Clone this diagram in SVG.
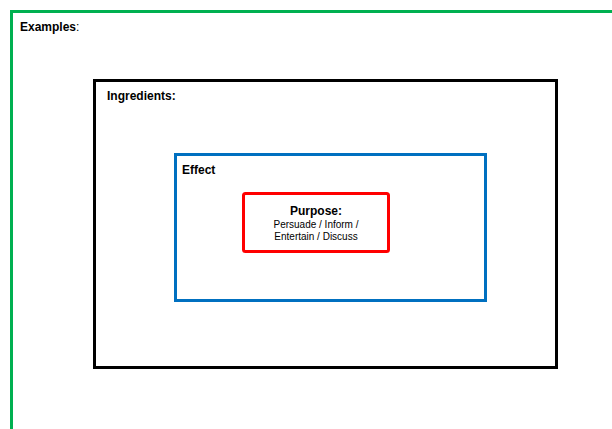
<svg xmlns="http://www.w3.org/2000/svg" width="612" height="429" viewBox="0 0 612 429">
<style>
.lbl{font-family:"Liberation Sans",Arial,sans-serif;font-weight:bold;font-size:12px;fill:#000}
.sm{font-family:"Liberation Sans",Arial,sans-serif;font-size:10px;fill:#000}
</style>
<rect width="612" height="429" fill="#fff"/>
<g id="examples">
<path d="M11.5 429 V11.5 H612" fill="none" stroke="#00b050" stroke-width="3"/>
<text class="lbl" x="20" y="31">Examples<tspan font-weight="normal">:</tspan></text>
</g>
<g id="ingredients">
<rect x="94.5" y="80.5" width="462" height="287" fill="none" stroke="#000" stroke-width="3"/>
<text class="lbl" x="107" y="100">Ingredients:</text>
</g>
<g id="effect">
<rect x="175.5" y="154.5" width="310" height="146" fill="none" stroke="#0070c0" stroke-width="3"/>
<text class="lbl" x="182" y="174">Effect</text>
</g>
<g id="purpose">
<rect x="243.5" y="193.5" width="145" height="58" rx="2" fill="none" stroke="#ff0000" stroke-width="3"/>
<text class="lbl" x="316" y="215" text-anchor="middle">Purpose:</text>
<text class="sm" x="316" y="228" text-anchor="middle">Persuade / Inform /</text>
<text class="sm" x="316" y="240" text-anchor="middle">Entertain / Discuss</text>
</g>
<g id="connectors"/>
</svg>
